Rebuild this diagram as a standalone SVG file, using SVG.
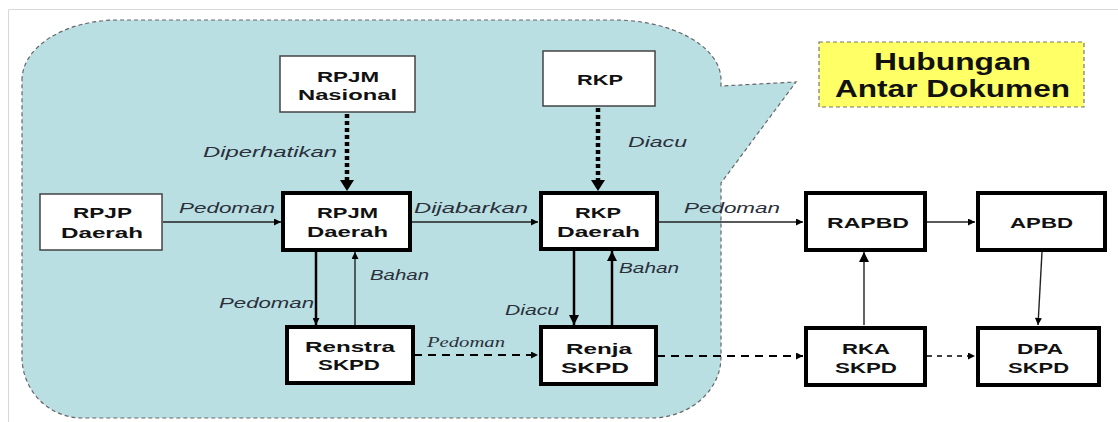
<svg xmlns="http://www.w3.org/2000/svg" width="1118" height="422" viewBox="0 0 1118 422">
<style>
.nt{font-family:"Liberation Sans",Arial,sans-serif;font-weight:bold;font-size:14.5px;fill:#111}
.lb{font-family:"Liberation Sans",Arial,sans-serif;font-style:italic;font-size:14px;fill:#2b2f3a}
.lbs{font-family:"Liberation Serif","Times New Roman",serif;font-style:italic;font-size:14px;fill:#2b2f3a}
.thin{fill:#fff;stroke:#444;stroke-width:1.5}
.thick{fill:#fff;stroke:#000;stroke-width:4}
.ln{fill:none;stroke:#222;stroke-width:1.4}
.lnb{fill:none;stroke:#000;stroke-width:2.5}
.dot{fill:none;stroke:#000;stroke-width:4.5;stroke-dasharray:4 3}
.dsh{fill:none;stroke:#000;stroke-width:2;stroke-dasharray:8 6}
.dsh2{fill:none;stroke:#000;stroke-width:1.6;stroke-dasharray:5 5}
</style>
<defs>
<marker id="ah" viewBox="0 0 10 10" refX="10" refY="5" markerWidth="8" markerHeight="7" markerUnits="userSpaceOnUse" orient="auto">
<path d="M0,0 L10,5 L0,10 Z" fill="#000"/>
</marker>
<marker id="ahb" viewBox="0 0 10 10" refX="10" refY="5" markerWidth="10" markerHeight="12" markerUnits="userSpaceOnUse" orient="auto">
<path d="M0,0 L10,5 L0,10 Z" fill="#000"/>
</marker>
</defs>
<rect width="1118" height="422" fill="#fff"/>
<path d="M8.5 422 L8.5 9.5 L1118 9.5" fill="none" stroke="#d8d8d8" stroke-width="1"/>
<g id="callout">
<path d="M22 80 A96 60 0 0 1 118 20 L614 20 A107 60 0 0 1 721 80 L721 86 L796 82 L721 183 L721 357 A70 61 0 0 1 651 418 L82 418 A60 61 0 0 1 22 357 Z" fill="#b9dfe3" stroke="#666" stroke-width="1.2" stroke-dasharray="4 3"/>
</g>
<g id="title">
<rect x="819" y="42" width="265" height="65" fill="#ffff66" stroke="#777" stroke-width="1.2" stroke-dasharray="4 3"/>
<text x="874" y="70" font-family="Liberation Sans,Arial,sans-serif" font-weight="bold" font-size="23" fill="#111" textLength="157" lengthAdjust="spacingAndGlyphs">Hubungan</text>
<text x="835" y="97" font-family="Liberation Sans,Arial,sans-serif" font-weight="bold" font-size="23" fill="#111" textLength="235" lengthAdjust="spacingAndGlyphs">Antar Dokumen</text>
</g>
<g id="connectors">
<line class="dot" x1="347" y1="114" x2="347" y2="181"/>
<path d="M340 180 L354 180 L347 191 Z" fill="#000"/>
<line class="dot" x1="598" y1="108" x2="598" y2="181"/>
<path d="M591 180 L605 180 L598 191 Z" fill="#000"/>
<line class="ln" x1="163" y1="222" x2="281" y2="222" marker-end="url(#ah)"/>
<line class="ln" x1="412" y1="222" x2="538" y2="222" marker-end="url(#ah)"/>
<line class="ln" x1="659" y1="222" x2="803" y2="222" marker-end="url(#ah)"/>
<line class="ln" x1="927" y1="222" x2="975" y2="222" marker-end="url(#ah)"/>
<line class="lnb" x1="316" y1="252" x2="316" y2="325" marker-end="url(#ah)"/>
<line class="ln" x1="355" y1="325" x2="355" y2="252" marker-end="url(#ah)"/>
<line class="lnb" x1="574" y1="251" x2="574" y2="325" marker-end="url(#ahb)"/>
<line class="lnb" x1="612" y1="325" x2="612" y2="251" marker-end="url(#ahb)"/>
<line class="ln" x1="864" y1="325" x2="864" y2="252" marker-end="url(#ahb)"/>
<line class="ln" x1="1042" y1="252" x2="1038" y2="325" marker-end="url(#ah)"/>
<line class="dsh" x1="414" y1="355" x2="538" y2="355" marker-end="url(#ah)"/>
<line class="dsh" x1="657" y1="356" x2="803" y2="356" marker-end="url(#ah)"/>
<line class="dsh2" x1="927" y1="356" x2="975" y2="356" marker-end="url(#ah)"/>
<text class="lb" x="203" y="157" textLength="134" lengthAdjust="spacingAndGlyphs">Diperhatikan</text>
<text class="lb" x="628" y="147" textLength="59" lengthAdjust="spacingAndGlyphs">Diacu</text>
<text class="lb" x="179" y="213" textLength="96" lengthAdjust="spacingAndGlyphs">Pedoman</text>
<text class="lb" x="414" y="213" textLength="114" lengthAdjust="spacingAndGlyphs">Dijabarkan</text>
<text class="lb" x="684" y="213" textLength="96" lengthAdjust="spacingAndGlyphs">Pedoman</text>
<text class="lb" x="219" y="308" textLength="95" lengthAdjust="spacingAndGlyphs">Pedoman</text>
<text class="lb" x="370" y="280" textLength="59" lengthAdjust="spacingAndGlyphs">Bahan</text>
<text class="lb" x="505" y="315" textLength="54" lengthAdjust="spacingAndGlyphs">Diacu</text>
<text class="lb" x="619" y="273" textLength="60" lengthAdjust="spacingAndGlyphs">Bahan</text>
<text class="lbs" x="427" y="347" textLength="78" lengthAdjust="spacingAndGlyphs">Pedoman</text>
</g>
<g id="rpjm-nasional">
<rect class="thin" x="280" y="56" width="135" height="56"/>
<text class="nt" x="317" y="82" textLength="62" lengthAdjust="spacingAndGlyphs">RPJM</text>
<text class="nt" x="298" y="100" textLength="99" lengthAdjust="spacingAndGlyphs">Nasional</text>
</g>
<g id="rkp">
<rect class="thin" x="543" y="51" width="112" height="55"/>
<text class="nt" x="577" y="85" textLength="46" lengthAdjust="spacingAndGlyphs">RKP</text>
</g>
<g id="rpjp-daerah">
<rect class="thin" x="40" y="194" width="122" height="56"/>
<text class="nt" x="73" y="218" textLength="59" lengthAdjust="spacingAndGlyphs">RPJP</text>
<text class="nt" x="61" y="238" textLength="82" lengthAdjust="spacingAndGlyphs">Daerah</text>
</g>
<g id="rpjm-daerah">
<rect class="thick" x="283" y="193" width="127" height="57"/>
<text class="nt" x="317" y="218" textLength="61" lengthAdjust="spacingAndGlyphs">RPJM</text>
<text class="nt" x="307" y="237" textLength="81" lengthAdjust="spacingAndGlyphs">Daerah</text>
</g>
<g id="rkp-daerah">
<rect class="thick" x="541" y="193" width="116" height="56"/>
<text class="nt" x="575" y="218" textLength="46" lengthAdjust="spacingAndGlyphs">RKP</text>
<text class="nt" x="557" y="237" textLength="83" lengthAdjust="spacingAndGlyphs">Daerah</text>
</g>
<g id="rapbd">
<rect class="thick" x="806" y="193" width="119" height="57"/>
<text class="nt" x="827" y="228" textLength="82" lengthAdjust="spacingAndGlyphs">RAPBD</text>
</g>
<g id="apbd">
<rect class="thick" x="978" y="193" width="127" height="57"/>
<text class="nt" x="1010" y="228" textLength="63" lengthAdjust="spacingAndGlyphs">APBD</text>
</g>
<g id="renstra-skpd">
<rect class="thick" x="287" y="327" width="126" height="56"/>
<text class="nt" x="305" y="352" textLength="90" lengthAdjust="spacingAndGlyphs">Renstra</text>
<text class="nt" x="318" y="370" textLength="62" lengthAdjust="spacingAndGlyphs">SKPD</text>
</g>
<g id="renja-skpd">
<rect class="thick" x="541" y="327" width="115" height="57"/>
<text class="nt" x="566" y="354" textLength="66" lengthAdjust="spacingAndGlyphs">Renja</text>
<text class="nt" x="561" y="373" textLength="68" lengthAdjust="spacingAndGlyphs">SKPD</text>
</g>
<g id="rka-skpd">
<rect class="thick" x="806" y="328" width="119" height="57"/>
<text class="nt" x="842" y="354" textLength="48" lengthAdjust="spacingAndGlyphs">RKA</text>
<text class="nt" x="835" y="373" textLength="62" lengthAdjust="spacingAndGlyphs">SKPD</text>
</g>
<g id="dpa-skpd">
<rect class="thick" x="978" y="328" width="121" height="57"/>
<text class="nt" x="1017" y="354" textLength="46" lengthAdjust="spacingAndGlyphs">DPA</text>
<text class="nt" x="1008" y="373" textLength="61" lengthAdjust="spacingAndGlyphs">SKPD</text>
</g>
</svg>
